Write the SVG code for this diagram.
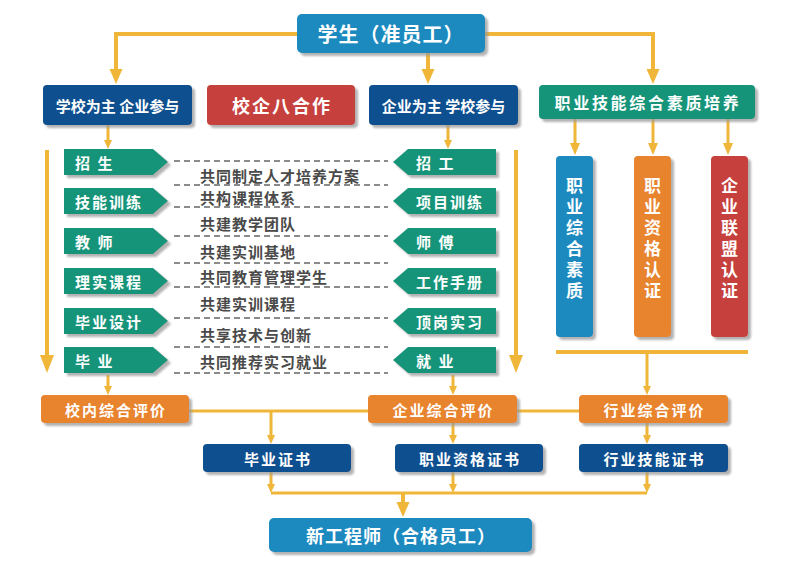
<svg xmlns="http://www.w3.org/2000/svg" width="804" height="566" viewBox="0 0 804 566">
<style>
text{font-family:"Noto Sans CJK SC","Noto Sans",sans-serif;font-weight:bold;fill:#fff;dominant-baseline:central}
.c{text-anchor:middle}
.lb{font-size:15px;letter-spacing:2px}
.dt{font-size:15px;letter-spacing:1px;fill:#4a4a4a}
.vt{font-size:17px;text-anchor:middle;writing-mode:vertical-rl;letter-spacing:4px}
.lblue{fill:#1a8abf}
.dblue{fill:#0c4f8f}
.red{fill:#c6413c}
.green{fill:#17947a}
.orange{fill:#e8832f}
.sh{filter:url(#sh)}
.ln{fill:none;stroke:#efb63a;stroke-width:3}
.lnb{fill:none;stroke:#efb63a;stroke-width:4}
.ds{fill:none;stroke:#666;stroke-width:1.5;stroke-dasharray:6 4}
</style>
<defs>
<filter id="sh" x="-10%" y="-20%" width="130%" height="160%">
<feDropShadow dx="3" dy="3" stdDeviation="0.8" flood-color="#999" flood-opacity="0.75"/>
</filter>
<marker id="ab" markerUnits="userSpaceOnUse" markerWidth="16" markerHeight="14" refX="1" refY="6.5" orient="auto">
<path d="M0,0 L15,6.5 L0,13 z" fill="#efb63a"/>
</marker>
<marker id="as" markerUnits="userSpaceOnUse" markerWidth="19" markerHeight="15" refX="1" refY="7" orient="auto">
<path d="M0,0 L18,7 L0,14 z" fill="#efb63a"/>
</marker>
<marker id="am" markerUnits="userSpaceOnUse" markerWidth="13" markerHeight="11" refX="1" refY="5" orient="auto">
<path d="M0,0 L12,5 L0,10 z" fill="#efb63a"/>
</marker>
<marker id="a" markerUnits="userSpaceOnUse" markerWidth="10" markerHeight="9" refX="1" refY="4" orient="auto">
<path d="M0,0 L9,4 L0,8 z" fill="#efb63a"/>
</marker>
</defs>

<g id="connectors">
<path class="lnb" d="M297,34 H116 V70" marker-end="url(#ab)"/>
<path class="lnb" d="M428,53 V70" marker-end="url(#ab)"/>
<path class="lnb" d="M485,34 H653 V70" marker-end="url(#ab)"/>
<path class="lnb" d="M47,150 V356" marker-end="url(#as)"/>
<path class="lnb" d="M516,150 V356" marker-end="url(#as)"/>
<path class="ln" d="M108,125 V141" marker-end="url(#a)"/>
<path class="ln" d="M448,125 V141" marker-end="url(#a)"/>
<path class="ln" d="M575,119 V144" marker-end="url(#am)"/>
<path class="ln" d="M653,119 V144" marker-end="url(#am)"/>
<path class="ln" d="M728,119 V144" marker-end="url(#am)"/>
<path class="lnb" d="M556,352 H748"/>
<path class="ln" d="M647,352 V387" marker-end="url(#a)"/>
<path class="ln" d="M108,375 V387" marker-end="url(#a)"/>
<path class="ln" d="M453,375 V387" marker-end="url(#a)"/>
<path class="ln" d="M189,411 H368 M517,411 H579"/>
<path class="ln" d="M271,411 V436" marker-end="url(#a)"/>
<path class="ln" d="M453,423 V436" marker-end="url(#a)"/>
<path class="ln" d="M647,423 V436" marker-end="url(#a)"/>
<path class="ln" d="M271,472 V485" marker-end="url(#a)"/>
<path class="ln" d="M453,472 V485" marker-end="url(#a)"/>
<path class="ln" d="M647,472 V485" marker-end="url(#a)"/>
<path class="ln" d="M271,493 H647"/>
<path class="lnb" d="M403,493 V503" marker-end="url(#ab)"/>
<path class="ds" d="M174,161 H388 M174,185 H388 M174,207 H388 M174,236 H388 M174,263 H388 M174,287 H388 M174,318 H388 M174,347 H388 M174,373 H388"/>
</g>

<g id="n-student"><rect class="lblue sh" x="297" y="14" width="188" height="39" rx="5"/><text class="c" x="391" y="33.5" style="font-size:20px;letter-spacing:1px">学生（准员工）</text></g>
<g id="n-school-led"><rect class="dblue sh" x="43" y="85" width="149" height="40" rx="4"/><text class="c" x="117.5" y="105" style="font-size:15px">学校为主 企业参与</text></g>
<g id="n-eight"><rect class="red sh" x="207" y="85" width="148" height="40" rx="4"/><text class="c" x="282" y="105" style="font-size:18px;letter-spacing:2px">校企八合作</text></g>
<g id="n-ent-led"><rect class="dblue sh" x="369" y="85" width="149" height="40" rx="4"/><text class="c" x="443.5" y="105" style="font-size:15px">企业为主 学校参与</text></g>
<g id="n-skill"><rect class="green sh" x="539" y="85" width="216" height="34" rx="4"/><text class="c" x="648" y="102" style="font-size:16px;letter-spacing:2.7px">职业技能综合素质培养</text></g>

<g id="n-v1"><rect class="lblue sh" x="556" y="156" width="37" height="181" rx="4"/><text class="vt" x="574.5" y="240.5">职业综合素质</text></g>
<g id="n-v2"><rect class="orange sh" x="634" y="156" width="37" height="181" rx="4"/><text class="vt" x="652.5" y="240.5">职业资格认证</text></g>
<g id="n-v3"><rect class="red sh" x="711" y="156" width="37" height="181" rx="4"/><text class="vt" x="729.5" y="240.5">企业联盟认证</text></g>

<g id="n-l1"><polygon class="green sh" points="64,149 153,149 168,162 153,175 64,175"/><text class="lb" x="75" y="162">招 生</text></g>
<g id="n-l2"><polygon class="green sh" points="64,188 153,188 168,201 153,214 64,214"/><text class="lb" x="75" y="201">技能训练</text></g>
<g id="n-l3"><polygon class="green sh" points="64,228 153,228 168,241 153,254 64,254"/><text class="lb" x="75" y="241">教 师</text></g>
<g id="n-l4"><polygon class="green sh" points="64,268 153,268 168,281 153,294 64,294"/><text class="lb" x="75" y="281">理实课程</text></g>
<g id="n-l5"><polygon class="green sh" points="64,308 153,308 168,321 153,334 64,334"/><text class="lb" x="75" y="321">毕业设计</text></g>
<g id="n-l6"><polygon class="green sh" points="64,347 153,347 168,360 153,373 64,373"/><text class="lb" x="75" y="360">毕 业</text></g>

<g id="n-r1"><polygon class="green sh" points="393,162 408,149 496,149 496,175 408,175"/><text class="lb" x="416" y="162">招 工</text></g>
<g id="n-r2"><polygon class="green sh" points="393,201 408,188 496,188 496,214 408,214"/><text class="lb" x="416" y="201">项目训练</text></g>
<g id="n-r3"><polygon class="green sh" points="393,241 408,228 496,228 496,254 408,254"/><text class="lb" x="416" y="241">师 傅</text></g>
<g id="n-r4"><polygon class="green sh" points="393,281 408,268 496,268 496,294 408,294"/><text class="lb" x="416" y="281">工作手册</text></g>
<g id="n-r5"><polygon class="green sh" points="393,321 408,308 496,308 496,334 408,334"/><text class="lb" x="416" y="321">顶岗实习</text></g>
<g id="n-r6"><polygon class="green sh" points="393,360 408,347 496,347 496,373 408,373"/><text class="lb" x="416" y="360">就 业</text></g>

<g id="cooperation-texts">
<text class="dt" x="200" y="175">共同制定人才培养方案</text>
<text class="dt" x="200" y="197">共构课程体系</text>
<text class="dt" x="200" y="223">共建教学团队</text>
<text class="dt" x="200" y="251">共建实训基地</text>
<text class="dt" x="200" y="276">共同教育管理学生</text>
<text class="dt" x="200" y="303">共建实训课程</text>
<text class="dt" x="200" y="334">共享技术与创新</text>
<text class="dt" x="200" y="361">共同推荐实习就业</text>
</g>

<g id="n-eval-school"><rect class="orange sh" x="41" y="395" width="148" height="28" rx="4"/><text class="c lb" x="116" y="409">校内综合评价</text></g>
<g id="n-eval-ent"><rect class="orange sh" x="368" y="395" width="149" height="28" rx="4"/><text class="c lb" x="443.5" y="409">企业综合评价</text></g>
<g id="n-eval-ind"><rect class="orange sh" x="579" y="395" width="149" height="28" rx="4"/><text class="c lb" x="654.5" y="409">行业综合评价</text></g>

<g id="n-cert-grad"><rect class="dblue sh" x="203" y="444" width="148" height="28" rx="4"/><text class="c lb" x="278" y="458">毕业证书</text></g>
<g id="n-cert-qual"><rect class="dblue sh" x="395" y="444" width="148" height="28" rx="4"/><text class="c lb" x="470" y="458">职业资格证书</text></g>
<g id="n-cert-skill"><rect class="dblue sh" x="579" y="444" width="149" height="28" rx="4"/><text class="c lb" x="654.5" y="458">行业技能证书</text></g>

<g id="n-engineer"><rect class="lblue sh" x="269" y="518" width="263" height="34" rx="5"/><text class="c" x="401" y="535" style="font-size:18px;letter-spacing:1px">新工程师（合格员工）</text></g>
</svg>
